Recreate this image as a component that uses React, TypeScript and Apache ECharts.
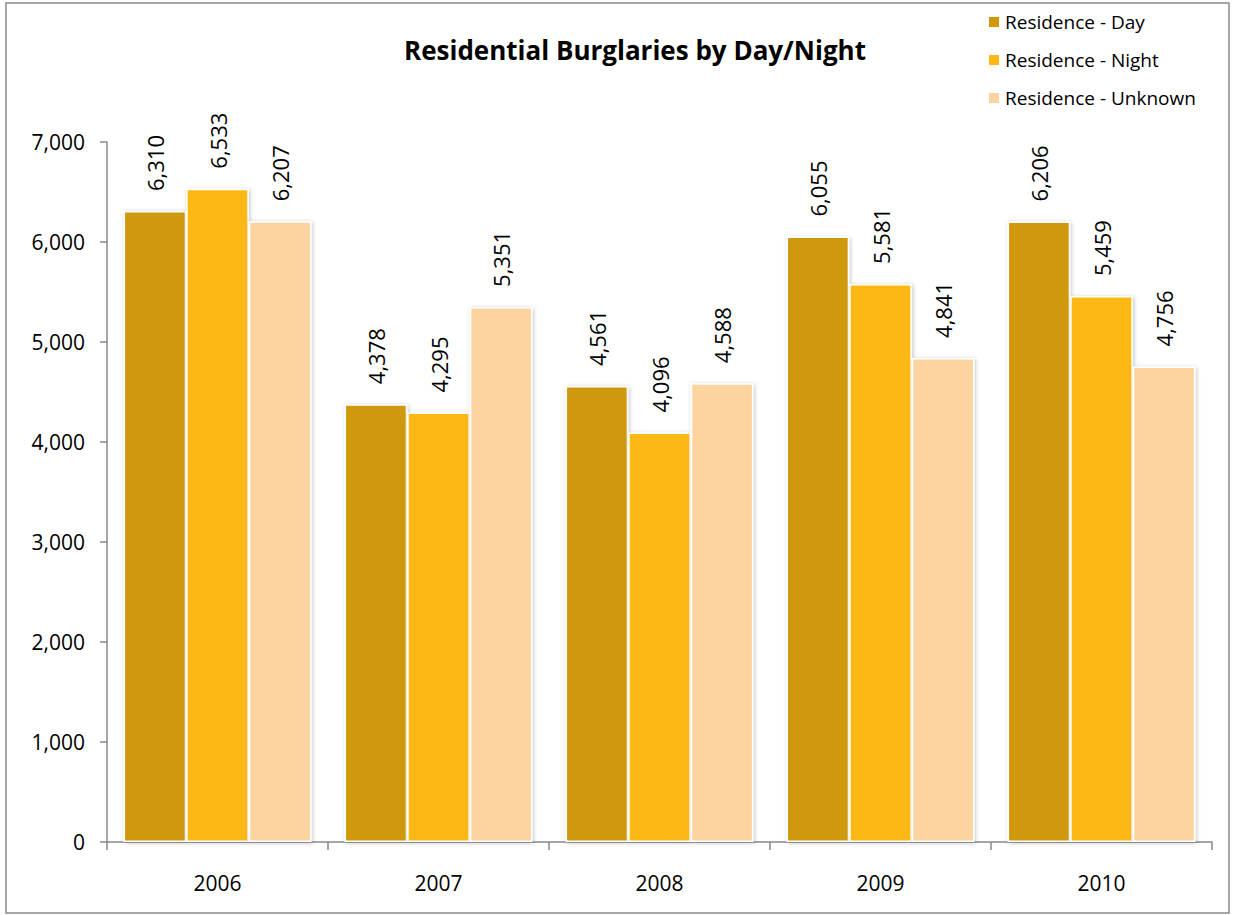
import React, { useEffect, useRef } from "react";
import * as echarts from "echarts";

const years = ["2006", "2007", "2008", "2009", "2010"];
const dayValues = [6310, 4378, 4561, 6055, 6206];
const nightValues = [6533, 4295, 4096, 5581, 5459];
const unknownValues = [6207, 5351, 4588, 4841, 4756];
const seriesNames = ["Residence - Day", "Residence - Night", "Residence - Unknown"];
const colors = ["#D0990A", "#FDB813", "#FDD4A0"];

const FONT = "'Open Sans', 'Liberation Sans', sans-serif";

export default function App() {
  const ref = useRef<HTMLDivElement>(null);
  useEffect(() => {
    const chart = echarts.init(ref.current!, undefined, { renderer: "svg" });
    const mk = (name: string, data: number[], color: string) => ({
      name,
      type: "bar",
      data,
      barGap: "0%",
      barCategoryGap: "15%",
      itemStyle: {
        color,
        borderColor: "#ffffff",
        borderWidth: 1.5,
        shadowColor: "rgba(0,0,0,0.25)",
        shadowBlur: 4,
        shadowOffsetX: 1,
        shadowOffsetY: 1,
      },
      label: {
        show: true,
        position: "top",
        rotate: 90,
        align: "left",
        verticalAlign: "middle",
        distance: 20,
        fontFamily: FONT,
        fontSize: 22,
        color: "#000",
        formatter: (p: any) => Number(p.value).toLocaleString("en-US"),
      },
    });
    chart.setOption({
      animation: false,
      backgroundColor: "#ffffff",
      title: {
        text: "Residential Burglaries by Day/Night",
        left: 630,
        top: 32,
        textAlign: "center",
        textStyle: { fontFamily: FONT, fontSize: 26, fontWeight: "bold", color: "#000" },
      },
      legend: {
        orient: "vertical",
        left: 982,
        top: 6,
        itemWidth: 12,
        itemHeight: 12,
        itemGap: 16,
        icon: "rect",
        textStyle: { fontFamily: FONT, fontSize: 19, color: "#000", lineHeight: 22 },
        data: seriesNames,
      },
      color: colors,
      grid: { left: 107, right: 21, top: 142, bottom: 73, containLabel: false },
      xAxis: {
        type: "category",
        data: years,
        axisLine: { lineStyle: { color: "#888", width: 1.5 } },
        axisTick: { show: true, length: 8, lineStyle: { color: "#888", width: 1.5 } },
        axisLabel: { fontFamily: FONT, fontSize: 21, color: "#000", margin: 30 },
      },
      yAxis: {
        type: "value",
        min: 0,
        max: 7000,
        interval: 1000,
        splitLine: { show: false },
        axisLine: { show: true, lineStyle: { color: "#888", width: 1.5 } },
        axisTick: { show: true, length: 7, lineStyle: { color: "#888", width: 1.5 } },
        axisLabel: {
          fontFamily: FONT,
          fontSize: 21,
          color: "#000",
          margin: 22,
          formatter: (v: number) => v.toLocaleString("en-US"),
        },
      },
      graphic: [
        {
          type: "rect",
          shape: { x: 6, y: 3, width: 1223, height: 910 },
          style: { fill: "none", stroke: "#8a8a8a", lineWidth: 1.5 },
          silent: true,
        },
      ],
      series: [
        mk(seriesNames[0], dayValues, colors[0]),
        mk(seriesNames[1], nightValues, colors[1]),
        mk(seriesNames[2], unknownValues, colors[2]),
      ],
    });
    return () => chart.dispose();
  }, []);
  return <div ref={ref} style={{ width: 1233, height: 915, position: "absolute", left: 0, top: 0 }} />;
}
